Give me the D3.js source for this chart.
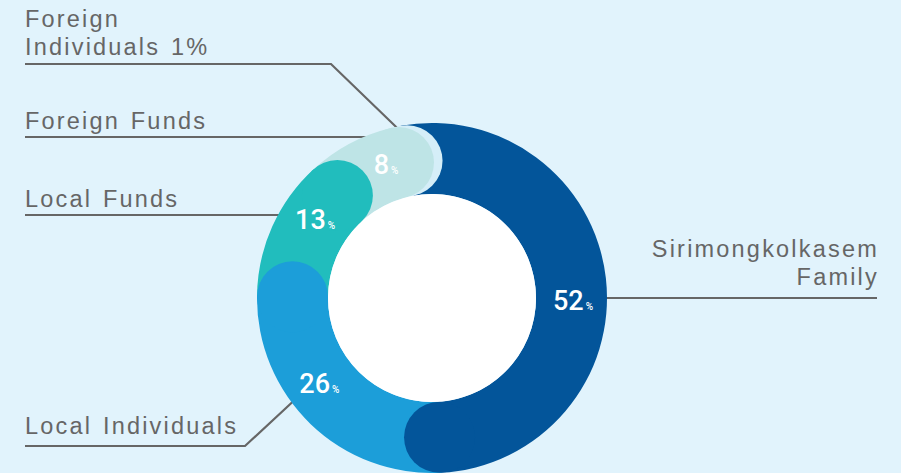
<!DOCTYPE html>
<html>
<head>
<meta charset="utf-8">
<script src="https://cdn.jsdelivr.net/npm/d3@7"></script>
<style>
  html, body { margin: 0; padding: 0; background: #e1f3fc; }
  svg { display: block; }
</style>
</head>
<body>
<svg id="chart" width="901" height="473"></svg>
<script>
// ---- data ----
const categories = ["Sirimongkolkasem Family", "Local Individuals", "Local Funds", "Foreign Funds", "Foreign Individuals"];
const values = [52, 26, 13, 8, 1];
const valueLabels = ["52", "26", "13", "8", ""];
const colors = ["#03559a", "#1c9ed9", "#21bdbd", "#bee4e6", "#d5eef8"];

// ---- layout ----
const W = 901, H = 473;
const cx = 432, cy = 298, R = 175, r = 104;
const mid = (R + r) / 2, half = (R - r) / 2;
const deg = Math.PI / 180;
const start = -10.3 * deg;
const labelAngles = [91, 233, 304, 341];
const labelRadius = 141;

const svg = d3.select("#chart");
svg.append("rect").attr("width", W).attr("height", H).attr("fill", "#e1f3fc");

// ---- leader lines & category texts ----
const textColor = "#666666";
const lines = [
  [[25, 64], [331, 64], [420, 150]],
  [[25, 137], [400, 137]],
  [[25, 215], [320, 215]],
  [[25, 446], [245, 446], [300, 395]],
  [[877, 298], [560, 298]]
];
const gl = svg.append("g");
lines.forEach(p => {
  gl.append("path").attr("d", d3.line()(p)).attr("fill", "none")
    .attr("stroke", textColor).attr("stroke-width", 2.2);
});

const texts = [
  { lines: ["Foreign", "Individuals 1%"], x: 25, y: 27, anchor: "start" },
  { lines: ["Foreign Funds"], x: 25, y: 129, anchor: "start" },
  { lines: ["Local Funds"], x: 25, y: 207, anchor: "start" },
  { lines: ["Local Individuals"], x: 25, y: 434, anchor: "start" },
  { lines: ["Sirimongkolkasem", "Family"], x: 877, y: 257, anchor: "end" }
];
const gt = svg.append("g")
  .attr("font-family", "'Liberation Sans', Arial, sans-serif")
  .attr("font-size", 23.5).attr("fill", textColor)
  .style("letter-spacing", "2.2px").style("word-spacing", "2px");
texts.forEach(t => {
  const tx = gt.append("text").attr("text-anchor", t.anchor);
  t.lines.forEach((l, i) => {
    tx.append("tspan").attr("x", t.anchor === "end" ? t.x + 2 : t.x).attr("y", t.y + i * 28).text(l);
  });
});

// ---- donut ----
const pie = d3.pie().sort(null).startAngle(start).endAngle(start + 2 * Math.PI);
const arcs = pie(values);
const g = svg.append("g").attr("transform", `translate(${cx},${cy})`);
const sector = d3.arc().innerRadius(r).outerRadius(R);

// sectors, each running slightly under the next one to avoid seams
g.selectAll("path.sector").data(arcs).join("path")
  .attr("class", "sector")
  .attr("d", d => sector({ startAngle: d.startAngle, endAngle: d.endAngle + 0.006 }))
  .attr("fill", (d, i) => colors[i]);

// rounded end caps, drawn last-to-first so that earlier segments sit on top
const capsData = arcs.map((d, i) => ({ d, i })).reverse();
g.selectAll("circle.cap").data(capsData).join("circle")
  .attr("class", "cap")
  .attr("cx", o => mid * Math.sin(o.d.endAngle))
  .attr("cy", o => -mid * Math.cos(o.d.endAngle))
  .attr("r", half)
  .attr("fill", o => colors[o.i]);

g.append("circle").attr("r", r).attr("fill", "#ffffff");

// ---- value labels ----
const gv = g.append("g").attr("font-family", "Roboto, 'Liberation Sans', Arial, sans-serif")
  .attr("fill", "#ffffff").attr("font-weight", 500);
valueLabels.forEach((lab, i) => {
  if (!lab) return;
  const a = labelAngles[i] * deg;
  const t = gv.append("text")
    .attr("x", labelRadius * Math.sin(a))
    .attr("y", -labelRadius * Math.cos(a))
    .attr("dy", "0.36em")
    .attr("text-anchor", "middle")
    .attr("font-size", 27);
  t.append("tspan").text(lab);
  t.append("tspan").attr("font-size", 10).attr("dx", 2).text("%");
});
</script>
</body>
</html>
